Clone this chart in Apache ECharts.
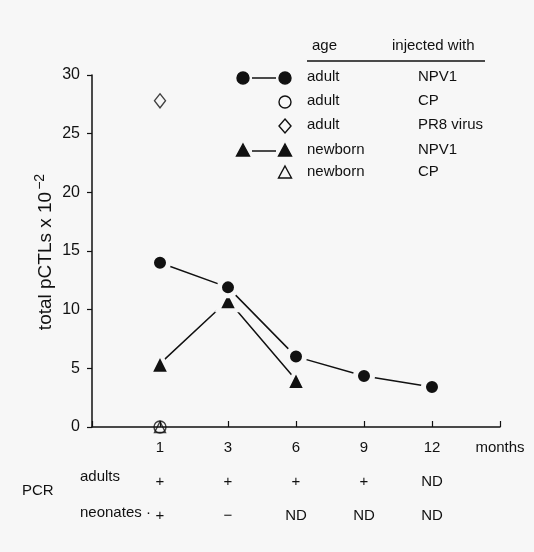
<!DOCTYPE html>
<html><head><meta charset="utf-8">
<script src="https://cdn.jsdelivr.net/npm/echarts@6/dist/echarts.min.js"></script>
<style>html,body{margin:0;padding:0;background:#f7f7f7}#c{width:534px;height:552px}</style>
</head><body><div id="c"></div><script>
const xCategories = ['', '1', '3', '6', '9', '12', 'months'];
const months = ['1', '3', '6', '9', '12'];
const adultNPV1 = [14.0, 11.9, 6.0, 4.35, 3.4];          // months 1,3,6,9,12
const newbornNPV1 = [5.4, 10.8, 4.0];                     // months 1,3,6
const adultCP = [0];                                      // month 1
const adultPR8 = [27.8];                                  // month 1
const newbornCP = [0];                                    // month 1
const pcrAdults = ['+', '+', '+', '+', 'ND'];
const pcrNeonates = ['+', '−', 'ND', 'ND', 'ND'];
const yMin = 0, yMax = 30, yStep = 5;
const yTitle = 'total pCTLs x 10{sup|−2}';

const BG = '#f7f7f7', INK = '#111';
const FONT = 'Liberation Sans';
const idx = m => xCategories.indexOf(m);
const pts = arr => arr.map((v, i) => [idx(months[i]), v]);

const chart = echarts.init(document.getElementById('c'), null, {renderer: 'canvas'});

const legendRows = [
  {y: 78, age: 'adult', inj: 'NPV1', sym: 'circle', fill: true, line: true},
  {y: 102, age: 'adult', inj: 'CP', sym: 'circle', fill: false},
  {y: 126, age: 'adult', inj: 'PR8 virus', sym: 'diamond', fill: false},
  {y: 151, age: 'newborn', inj: 'NPV1', sym: 'triangle', fill: true, line: true},
  {y: 173, age: 'newborn', inj: 'CP', sym: 'triangle', fill: false}
];
function symG(kind, cx, cy, fill) {
  const style = {fill: fill ? INK : 'none', stroke: INK, lineWidth: 1.4};
  if (kind === 'circle') return {type: 'circle', shape: {cx, cy, r: 6}, style};
  if (kind === 'diamond') return {type: 'polygon', shape: {points: [[cx, cy - 7], [cx + 6, cy], [cx, cy + 7], [cx - 6, cy]]}, style};
  return {type: 'polygon', shape: {points: [[cx, cy - 7], [cx + 6.5, cy + 5], [cx - 6.5, cy + 5]]}, style};
}
const graphics = [
  {type: 'text', left: 312, top: 38, style: {text: 'age', font: '15px ' + FONT, fill: INK}},
  {type: 'text', left: 392, top: 38, style: {text: 'injected with', font: '15px ' + FONT, fill: INK}},
  {type: 'line', shape: {x1: 307, y1: 61, x2: 485, y2: 61}, style: {stroke: INK, lineWidth: 1.5}},
  {type: 'text', left: 80, top: 469, style: {text: 'adults', font: '15px ' + FONT, fill: INK}},
  {type: 'text', left: 22, top: 483, style: {text: 'PCR', font: '15px ' + FONT, fill: INK}},
  {type: 'text', left: 80, top: 505, style: {text: 'neonates ·', font: '15px ' + FONT, fill: INK}},
  {type: 'text', x: 46, y: 252, rotation: Math.PI / 2,
    style: {text: yTitle, fontSize: 19, fontFamily: FONT, fill: INK, align: 'center', verticalAlign: 'middle',
      rich: {sup: {fontSize: 14, fontFamily: FONT, fill: INK, padding: [0, 0, 12, 2]}}}}
];
legendRows.forEach(r => {
  graphics.push(symG(r.sym, 285, r.y, r.fill));
  if (r.line) {
    graphics.push(symG(r.sym, 243, r.y, r.fill));
    graphics.push({type: 'line', shape: {x1: 252, y1: r.y, x2: 276, y2: r.y}, style: {stroke: INK, lineWidth: 1.5}});
  }
  graphics.push({type: 'text', left: 307, top: r.y - 9, style: {text: r.age, font: '15px ' + FONT, fill: INK}});
  graphics.push({type: 'text', left: 418, top: r.y - 9, style: {text: r.inj, font: '15px ' + FONT, fill: INK}});
});

chart.setOption({
  backgroundColor: BG,
  animation: false,
  textStyle: {fontFamily: FONT, color: INK},
  grid: {left: 92, right: 34, top: 75, bottom: 125, containLabel: false},
  xAxis: {
    type: 'category', data: xCategories, boundaryGap: false,
    axisLine: {lineStyle: {color: INK, width: 1.5}},
    axisTick: {inside: true, length: 6, lineStyle: {color: INK, width: 1.2}},
    axisLabel: {
      color: INK, fontSize: 15, fontFamily: FONT, margin: 4, lineHeight: 34, interval: 0,
      formatter: (v, i) => {
        const k = months.indexOf(v);
        if (k < 0) return v;
        return v + '\n' + pcrAdults[k] + '\n' + pcrNeonates[k];
      }
    },
    splitLine: {show: false}
  },
  yAxis: {
    type: 'value', min: yMin, max: yMax, interval: yStep,
    axisLine: {show: true, lineStyle: {color: INK, width: 1.5}},
    axisTick: {show: true, length: 5, lineStyle: {color: INK, width: 1.2}},
    axisLabel: {color: INK, fontSize: 16, fontFamily: FONT, margin: 12},
    splitLine: {show: false}
  },
  graphic: graphics,
  series: [
    {name: 'newborn NPV1', type: 'line', data: pts(newbornNPV1), symbol: 'triangle', symbolSize: 20,
      lineStyle: {color: INK, width: 1.5}, itemStyle: {color: INK, borderColor: BG, borderWidth: 4}, z: 2},
    {name: 'adult NPV1', type: 'line', data: pts(adultNPV1), symbol: 'circle', symbolSize: 17,
      lineStyle: {color: INK, width: 1.5}, itemStyle: {color: INK, borderColor: BG, borderWidth: 5}, z: 3},
    {name: 'adult CP', type: 'scatter', data: pts(adultCP), symbol: 'circle', symbolSize: 12,
      itemStyle: {color: 'rgba(0,0,0,0)', borderColor: INK, borderWidth: 1.4}, z: 4},
    {name: 'adult PR8', type: 'scatter', data: pts(adultPR8), symbol: 'diamond', symbolSize: [11, 14],
      itemStyle: {color: 'rgba(0,0,0,0)', borderColor: INK, borderWidth: 1.4}, z: 4},
    {name: 'newborn CP', type: 'scatter', data: pts(newbornCP), symbol: 'triangle', symbolSize: 11,
      itemStyle: {color: 'rgba(0,0,0,0)', borderColor: INK, borderWidth: 1.4}, z: 4}
  ]
});
</script></body></html>
